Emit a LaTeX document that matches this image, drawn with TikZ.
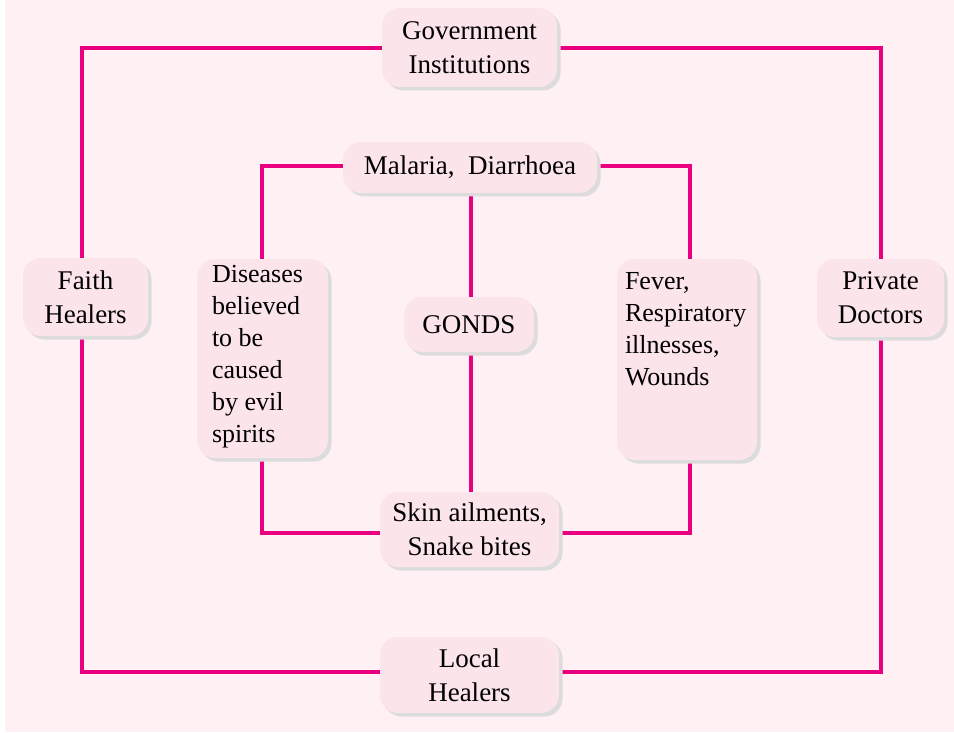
\documentclass[tikz,border=0pt]{standalone}
\usepackage{fontspec}
\setmainfont{Liberation Serif}
\usetikzlibrary{shadows}
\definecolor{bgpink}{RGB}{255,240,243}
\definecolor{boxpink}{RGB}{252,228,235}
\definecolor{linepink}{RGB}{232,0,128}
\definecolor{shadowgray}{RGB}{220,220,220}
\pgfdeclarelayer{background}
\pgfdeclarelayer{lines}
\pgfsetlayers{background,lines,main}
\tikzset{
  box/.style={fill=boxpink, rounded corners=18pt, inner sep=0pt, align=center,
    font=\fontsize{27}{34}\selectfont,
    drop shadow={shadow xshift=3.5pt, shadow yshift=-3.5pt, fill=shadowgray, opacity=1}},
  conn/.style={draw=linepink, line width=3.2pt, line join=miter}
}
\begin{document}
\begin{tikzpicture}[x=1pt,y=-1pt]
\useasboundingbox (0,0) rectangle (954,733);
\begin{pgfonlayer}{background}
\fill[bgpink] (5,0) rectangle (954,732);
\end{pgfonlayer}

\node[box, minimum width=175pt, minimum height=79pt] (gov) at (469.5,47.5) {Government\\Institutions};
\node[box, minimum width=125pt, minimum height=78pt] (faith) at (85.5,297) {Faith\\Healers};
\node[box, minimum width=127pt, minimum height=78pt] (private) at (880.5,298) {Private\\Doctors};
\node[box, minimum width=179pt, minimum height=76pt] (local) at (469.5,675) {Local\\Healers};
\node[box, minimum width=254pt, minimum height=51pt] (mal) at (470,167.5) {Malaria,\ \ Diarrhoea};
\node[box, minimum width=130pt, minimum height=55pt] (gonds) at (469,324.5) {GONDS};
\node[box, minimum width=179pt, minimum height=75pt] (skin) at (469.5,529.5) {Skin ailments,\\Snake bites};
\node[box, inner xsep=15pt, inner ysep=0pt] (dis) at (262.5,358.5)
  {\parbox[c][199pt][t]{101pt}{\raggedright\fontsize{26}{32}\selectfont\vspace*{6pt}Diseases\\believed\\to be\\caused\\by evil\\spirits}};
\node[box, inner xsep=8pt, inner ysep=0pt] (fever) at (687,359.5)
  {\parbox[c][201pt][t]{124pt}{\raggedright\fontsize{26}{32}\selectfont\vspace*{13pt}Fever,\\Respiratory\\illnesses,\\Wounds}};

\coordinate (cTL) at (82,48);
\coordinate (cTR) at (881,48);
\coordinate (cBL) at (82,672);
\coordinate (cBR) at (881,672);
\coordinate (iTL) at (262,166);
\coordinate (iTR) at (690,166);
\coordinate (iBL) at (262,533);
\coordinate (iBR) at (690,533);
\coordinate (cx) at (471,0);

\begin{pgfonlayer}{lines}
\draw[conn] (gov.west |- cTL) -- (cTL) -- (cTL |- faith.north);
\draw[conn] (faith.south -| cTL) -- (cBL) -- (local.west |- cBL);
\draw[conn] (gov.east |- cTR) -- (cTR) -- (cTR |- private.north);
\draw[conn] (private.south -| cTR) -- (cBR) -- (local.east |- cBR);
\draw[conn] (mal.west |- iTL) -- (iTL) -- (iTL |- dis.north);
\draw[conn] (dis.south -| iBL) -- (iBL) -- (skin.west |- iBL);
\draw[conn] (mal.east |- iTR) -- (iTR) -- (iTR |- fever.north);
\draw[conn] (fever.south -| iBR) -- (iBR) -- (skin.east |- iBR);
\draw[conn] (mal.south -| cx) -- (gonds.north -| cx);
\draw[conn] (gonds.south -| cx) -- (skin.north -| cx);
\end{pgfonlayer}
\end{tikzpicture}
\end{document}
